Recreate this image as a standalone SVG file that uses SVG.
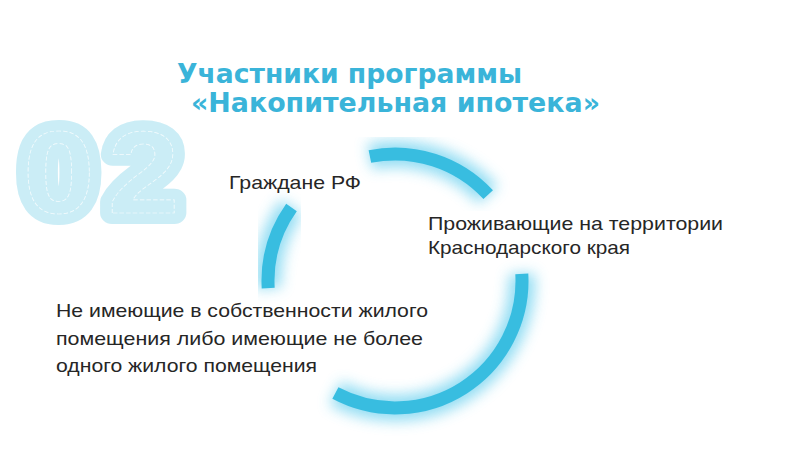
<svg xmlns="http://www.w3.org/2000/svg" width="800" height="450" viewBox="0 0 800 450">
  <defs>
    <filter id="glow" x="-40%" y="-40%" width="180%" height="180%">
      <feGaussianBlur stdDeviation="7"/>
    </filter>
    <style>
      .title { font-family: "DejaVu Sans", "Liberation Sans", sans-serif; font-weight: bold; font-size: 26px; fill: #3ab4d9; }
      .body { font-family: "Liberation Sans", Arial, sans-serif; font-size: 19px; fill: #262626; }
      .num { font-family: "Liberation Sans", Arial, sans-serif; font-weight: bold; font-size: 117px; }
      .arc { fill: none; stroke: #38bde0; stroke-width: 13; stroke-linecap: butt; }
      .arcglow { fill: none; stroke: #86d9f2; stroke-width: 26; opacity: 0.9; filter: url(#glow); }
    </style>
  </defs>
  <rect width="800" height="450" fill="#ffffff"/>

  <g id="number-02" transform="scale(1.1 1)">
    <text class="num" x="21" y="213" fill="#cbedf6" stroke="#cbedf6" stroke-width="22" stroke-linejoin="round">0</text>
    <text class="num" x="98" y="213" fill="#cbedf6" stroke="#cbedf6" stroke-width="22" stroke-linejoin="round">2</text>
    <text class="num" x="21" y="213" fill="none" stroke="#ffffff" stroke-width="0.7" stroke-dasharray="4 2" opacity="0.8">0</text>
    <text class="num" x="98" y="213" fill="none" stroke="#ffffff" stroke-width="0.7" stroke-dasharray="4 2" opacity="0.8">2</text>
  </g>

  <g id="connectors">
    <path class="arcglow" d="M369.9,156.5 A127,127 0 0 1 488.2,194.7"/>
    <path class="arcglow" d="M268.2,288.1 A127,127 0 0 1 291.5,207.4"/>
    <path class="arcglow" d="M521.8,273.9 A127,127 0 0 1 335.4,393.1"/>
    <path class="arc" d="M369.9,156.5 A127,127 0 0 1 488.2,194.7"/>
    <path class="arc" d="M268.2,288.1 A127,127 0 0 1 291.5,207.4"/>
    <path class="arc" d="M521.8,273.9 A127,127 0 0 1 335.4,393.1"/>
  </g>

  <g id="title">
    <text class="title" x="177" y="83" textLength="345" lengthAdjust="spacingAndGlyphs">Участники программы</text>
    <text class="title" x="191" y="112" textLength="409" lengthAdjust="spacingAndGlyphs">«Накопительная ипотека»</text>
  </g>

  <g id="node-citizens">
    <text class="body" x="229" y="189" textLength="132" lengthAdjust="spacingAndGlyphs">Граждане РФ</text>
  </g>

  <g id="node-residents">
    <text class="body" x="428" y="230" textLength="295" lengthAdjust="spacingAndGlyphs">Проживающие на территории</text>
    <text class="body" x="428" y="254" textLength="202" lengthAdjust="spacingAndGlyphs">Краснодарского края</text>
  </g>

  <g id="node-housing">
    <text class="body" x="56" y="317" textLength="372" lengthAdjust="spacingAndGlyphs">Не имеющие в собственности жилого</text>
    <text class="body" x="56" y="345" textLength="367" lengthAdjust="spacingAndGlyphs">помещения либо имеющие не более</text>
    <text class="body" x="56" y="372" textLength="261" lengthAdjust="spacingAndGlyphs">одного жилого помещения</text>
  </g>
</svg>
